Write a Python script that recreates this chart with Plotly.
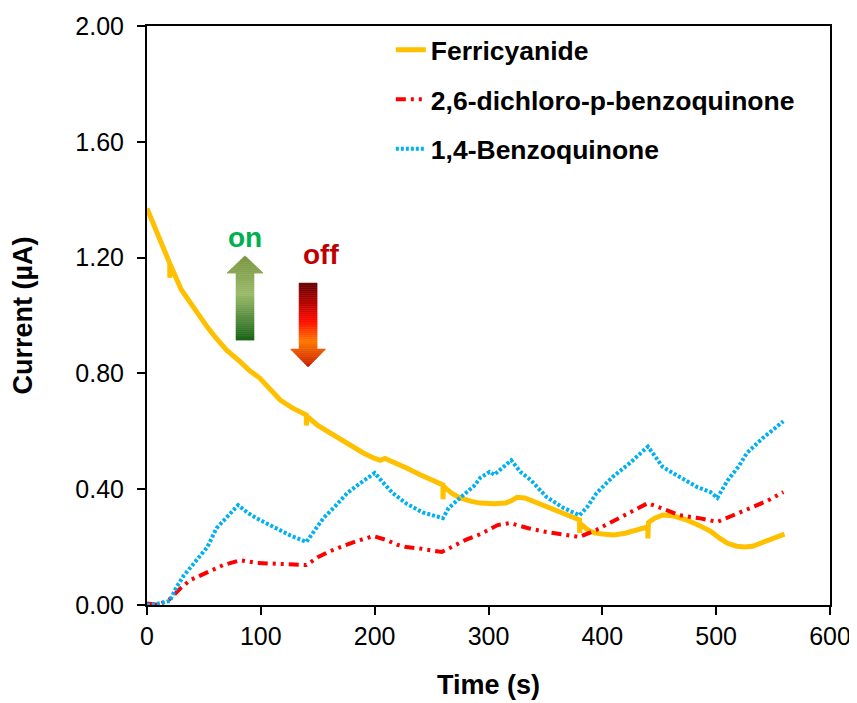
import plotly.graph_objects as go

# ---------------- data ----------------
ferri_t = [0, 5, 10, 15, 20, 20, 20.5, 30, 38, 45, 53, 60, 70, 82, 90, 99, 108, 117, 128,
           140, 140, 140.5, 150, 160, 170, 180, 190, 199, 205, 209, 215, 228, 240, 250,
           260, 260, 260.5, 268, 275, 285, 293, 305, 315, 320, 325, 332, 345, 360, 370,
           380, 380, 381, 387, 393, 400, 410, 420, 430, 440, 440, 440.5, 446, 453, 462,
           474, 485, 495, 503, 510, 518, 525, 532, 540, 550, 560]
ferri_v = [1.37, 1.32, 1.27, 1.22, 1.18, 1.13, 1.175, 1.09, 1.043, 1.0, 0.96, 0.925, 0.88,
           0.84, 0.81, 0.784, 0.745, 0.708, 0.68, 0.656, 0.62, 0.652, 0.62, 0.595, 0.57,
           0.545, 0.525, 0.508, 0.50, 0.506, 0.497, 0.473, 0.45, 0.433, 0.415, 0.365, 0.41,
           0.385, 0.37, 0.358, 0.352, 0.35, 0.352, 0.36, 0.372, 0.37, 0.35, 0.325, 0.31,
           0.294, 0.25, 0.28, 0.26, 0.249, 0.245, 0.242, 0.248, 0.258, 0.27, 0.23, 0.285,
           0.30, 0.311, 0.308, 0.294, 0.275, 0.255, 0.231, 0.213, 0.203, 0.20, 0.203, 0.215,
           0.23, 0.245]

dcbq_t = [0, 10, 20, 30, 38, 53, 67, 82, 90, 97, 110, 125, 140, 150, 160, 170, 185, 199,
          210, 220, 228, 240, 259, 270, 280, 293, 308, 319, 335, 351, 365, 380, 395, 410,
          425, 440, 455, 468, 485, 501, 515, 530, 545, 559]
dcbq_v = [0.005, 0.0, 0.02, 0.06, 0.086, 0.114, 0.138, 0.155, 0.15, 0.145, 0.143, 0.142,
          0.138, 0.165, 0.185, 0.2, 0.222, 0.238, 0.225, 0.208, 0.2, 0.195, 0.183, 0.205,
          0.225, 0.245, 0.276, 0.283, 0.265, 0.252, 0.243, 0.235, 0.26, 0.29, 0.32, 0.352,
          0.33, 0.31, 0.30, 0.287, 0.31, 0.335, 0.36, 0.39]

bq_t = [0, 10, 20, 26, 32, 38, 45, 53, 61, 70, 80, 88, 96, 111, 126, 140, 148, 155, 165,
        176, 187, 200, 208, 216, 228, 242, 260, 265, 275, 287, 293, 301, 305, 312, 320,
        328, 337, 351, 366, 380, 387, 395, 409, 424, 433, 440, 447, 453, 468, 483, 495,
        501, 510, 520, 527, 541, 550, 559]
bq_v = [0.0, 0.005, 0.014, 0.063, 0.10, 0.13, 0.165, 0.20, 0.265, 0.305, 0.345, 0.32, 0.30,
        0.27, 0.24, 0.218, 0.26, 0.30, 0.34, 0.387, 0.42, 0.456, 0.42, 0.386, 0.35, 0.32,
        0.30, 0.335, 0.37, 0.41, 0.44, 0.46, 0.45, 0.475, 0.50, 0.46, 0.432, 0.373, 0.335,
        0.31, 0.34, 0.387, 0.442, 0.49, 0.52, 0.547, 0.51, 0.477, 0.442, 0.408, 0.39, 0.37,
        0.43, 0.48, 0.525, 0.577, 0.605, 0.635]

series_names = ["Ferricyanide", "2,6-dichloro-p-benzoquinone", "1,4-Benzoquinone"]
x_ticks = [0, 100, 200, 300, 400, 500, 600]
y_ticks = [0.0, 0.4, 0.8, 1.2, 1.6, 2.0]

FONT = "Liberation Sans, Arial, sans-serif"

fig = go.Figure()
fig.add_trace(go.Scatter(x=ferri_t, y=ferri_v, mode="lines", name=series_names[0],
                         legendgroup="a", line=dict(color="#FFC000", width=5)))
fig.add_trace(go.Scatter(x=dcbq_t, y=dcbq_v, mode="lines", name=series_names[1],
                         legendgroup="b",
                         line=dict(color="#FF0000", width=4,
                                   dash="10px,5px,3px,5px,3px,5px")))
fig.add_trace(go.Scatter(x=bq_t, y=bq_v, mode="lines", name=series_names[2],
                         legendgroup="c",
                         line=dict(color="#00B0F0", width=4, dash="3px,2px")))


# ---------------- gradient arrows (decoration) ----------------
def lerp(c1, c2, f):
    return tuple(int(round(a + (b - a) * f)) for a, b in zip(c1, c2))


def grad_color(stops, f):
    for i in range(len(stops) - 1):
        p1, c1 = stops[i]
        p2, c2 = stops[i + 1]
        if p1 <= f <= p2:
            return "rgb(%d,%d,%d)" % lerp(c1, c2, (f - p1) / (p2 - p1) if p2 > p1 else 0)
    return "rgb(%d,%d,%d)" % stops[-1][1]


def arrow_shapes(xc, shaft_hw, head_hw, y_start, y_neck, y_tip, stops, n=40):
    """Arrow from y_start (tail) to y_tip; stops from tip(0) to tail(1)."""
    shapes = []
    total = y_tip - y_start
    fn = (y_neck - y_start) / total

    def hw(y):
        fr = (y - y_start) / total
        if fr <= fn + 1e-9:
            return shaft_hw
        return head_hw * (1 - (fr - fn) / (1 - fn))

    for i in range(n):
        f0 = i / n
        f1 = (i + 1) / n
        ya = y_start + total * f0
        yb = y_start + total * f1
        col = grad_color(stops, 1 - (f0 + f1) / 2)
        if f0 < fn < f1:
            ym = y_neck
            pts = [(xc - shaft_hw, ya), (xc + shaft_hw, ya), (xc + shaft_hw, ym),
                   (xc + head_hw, ym), (xc + hw(yb), yb), (xc - hw(yb), yb),
                   (xc - head_hw, ym), (xc - shaft_hw, ym)]
        else:
            ha = head_hw if abs(f0 - fn) < 1e-9 else hw(ya)
            hb = hw(yb)
            pts = [(xc - ha, ya), (xc + ha, ya), (xc + hb, yb), (xc - hb, yb)]
        path = "M " + " L ".join("%.3f,%.4f" % p for p in pts) + " Z"
        shapes.append(dict(type="path", path=path, xref="x", yref="y",
                           fillcolor=col, line=dict(width=0.6, color=col), layer="above"))
    return shapes


up_stops = [(0.0, (122, 150, 66)), (0.45, (155, 187, 106)), (1.0, (24, 100, 24))]
down_stops = [(0.0, (200, 30, 0)), (0.3, (255, 120, 0)), (0.55, (255, 10, 0)), (1.0, (100, 0, 0))]

shapes = []
shapes += arrow_shapes(86.1, 7.9, 15.8, 0.915, 1.147, 1.206, up_stops)
shapes += arrow_shapes(141.5, 7.9, 15.4, 1.112, 0.884, 0.822, down_stops)

fig.update_layout(
    width=857, height=703,
    paper_bgcolor="white", plot_bgcolor="white",
    margin=dict(l=139, r=35, t=18, b=106, autoexpand=False),
    font=dict(family=FONT, color="black"),
    shapes=shapes,
    showlegend=True,
    legend=dict(x=0.357, y=1.0, xanchor="left", yanchor="top",
                bgcolor="rgba(0,0,0,0)", tracegroupgap=12,
                font=dict(family=FONT, size=26.5, color="black", weight="bold")),
    xaxis=dict(range=[0, 600], tickvals=x_ticks, ticktext=[str(v) for v in x_ticks],
               showgrid=False, zeroline=False, showline=True, mirror=True,
               linecolor="black", linewidth=2, ticks="outside", ticklen=8, tickwidth=2,
               tickcolor="black", tickfont=dict(family=FONT, size=25), automargin=False,
               title=dict(text="<b>Time (s)</b>", font=dict(family=FONT, size=27), standoff=26)),
    yaxis=dict(range=[0, 2.0], tickvals=y_ticks, ticktext=["%.2f" % v for v in y_ticks],
               showgrid=False, zeroline=False, showline=True, mirror=True,
               linecolor="black", linewidth=2, ticks="outside", ticklen=8, tickwidth=2,
               tickcolor="black", tickfont=dict(family=FONT, size=25), automargin=False,
               ticklabelstandoff=8,
               title=dict(text="<b>Current (µA)</b>", font=dict(family=FONT, size=27), standoff=35)),
    annotations=[
        dict(x=86.1, y=1.27, xref="x", yref="y", text="<b>on</b>", showarrow=False,
             font=dict(family=FONT, size=28, color="#00B050")),
        dict(x=153, y=1.21, xref="x", yref="y", text="<b>off</b>", showarrow=False,
             font=dict(family=FONT, size=28, color="#C00000")),
    ],
)

fig.write_html("out.html")
